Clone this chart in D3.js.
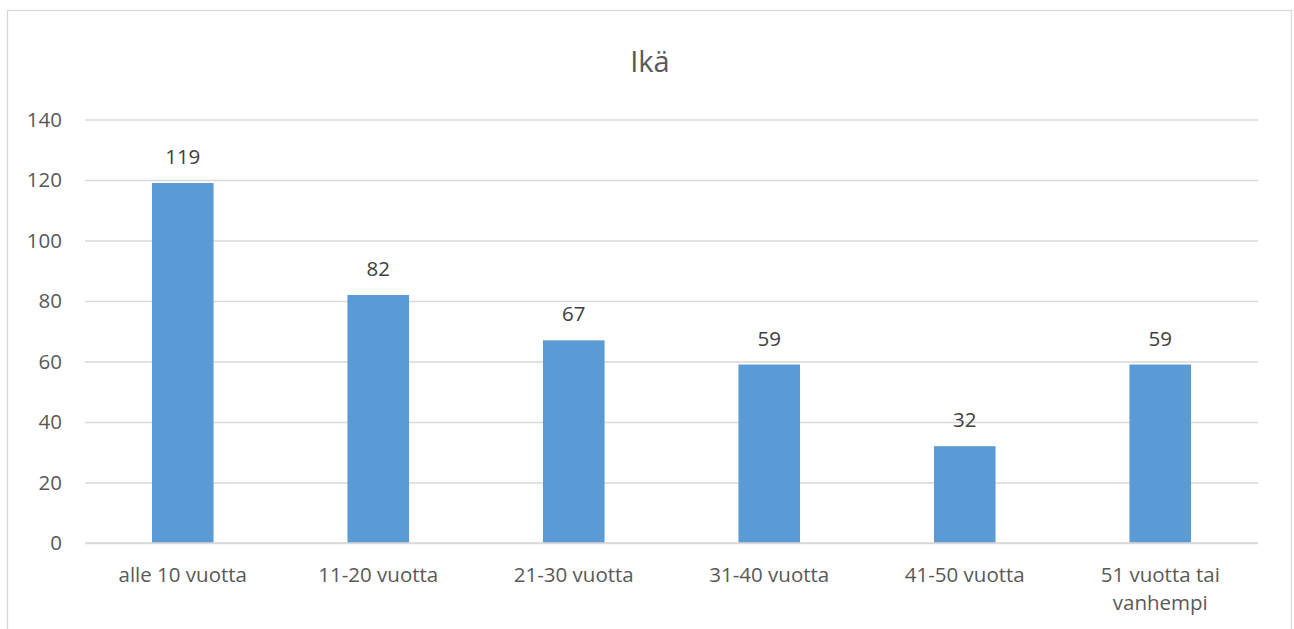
<!DOCTYPE html>
<html>
<head>
<meta charset="utf-8">
<script src="https://cdn.jsdelivr.net/npm/d3@7"></script>
<style>
  body { margin: 0; background: #fff; }
  svg { display: block; font-family: "Open Sans", sans-serif; }
</style>
</head>
<body>
<div id="chart"></div>
<script>
// Data
const categories = ['alle 10 vuotta', '11-20 vuotta', '21-30 vuotta', '31-40 vuotta', '41-50 vuotta', '51 vuotta tai vanhempi'];
const values = [119, 82, 67, 59, 32, 59];
const yTicks = [0, 20, 40, 60, 80, 100, 120, 140];
const chartTitle = 'Ikä';

const width = 1294;
const height = 629;

const plotLeft = 85;
const plotRight = 1258;
const plotTop = 119.5;
const plotBottom = 543;
const fontSize = '20.5px';

const svg = d3.select('#chart').append('svg')
  .attr('width', width)
  .attr('height', height);

// Frame
svg.append('rect')
  .attr('x', 7.5)
  .attr('y', 10.5)
  .attr('width', 1284)
  .attr('height', 660)
  .attr('fill', '#fff')
  .attr('stroke', '#d9d9d9')
  .attr('stroke-width', 1.3);

// Title
svg.append('text')
  .attr('x', 650)
  .attr('y', 72)
  .attr('text-anchor', 'middle')
  .attr('fill', '#595959')
  .style('font-size', '29px')
  .text(chartTitle);

// Scales
const x = d3.scaleBand()
  .domain(categories)
  .range([plotLeft, plotRight])
  .paddingInner(0.685)
  .paddingOuter(0.3425);

const y = d3.scaleLinear()
  .domain([0, 140])
  .range([plotBottom, plotTop]);

// Y axis with gridlines
const yAxis = d3.axisLeft(y)
  .tickValues(yTicks)
  .tickSize(-(plotRight - plotLeft))
  .tickPadding(23);

const gy = svg.append('g')
  .attr('transform', `translate(${plotLeft},0)`)
  .call(yAxis);
gy.select('.domain').remove();
gy.selectAll('.tick line').attr('stroke', '#d9d9d9').attr('stroke-width', 1.5);
gy.selectAll('.tick text')
  .attr('fill', '#595959')
  .style('font-size', fontSize)
  .style('font-family', '"Open Sans", sans-serif');

// Bars
svg.selectAll('rect.bar')
  .data(values)
  .enter()
  .append('rect')
  .attr('class', 'bar')
  .attr('x', (d, i) => x(categories[i]))
  .attr('y', (d) => y(d))
  .attr('width', x.bandwidth())
  .attr('height', (d) => plotBottom - y(d))
  .attr('fill', '#5b9bd5');

// Baseline over bars
svg.append('line')
  .attr('x1', plotLeft).attr('x2', plotRight)
  .attr('y1', y(0)).attr('y2', y(0))
  .attr('stroke', '#d9d9d9')
  .attr('stroke-width', 1.5);

// Data labels
svg.selectAll('text.label')
  .data(values)
  .enter()
  .append('text')
  .attr('class', 'label')
  .attr('x', (d, i) => x(categories[i]) + x.bandwidth() / 2)
  .attr('y', (d) => y(d) - 19)
  .attr('text-anchor', 'middle')
  .attr('fill', '#404040')
  .style('font-size', fontSize)
  .text((d) => d);

// Category labels (wrap long ones)
const xAxis = d3.axisBottom(x).tickSize(0).tickPadding(0);
const gx = svg.append('g')
  .attr('transform', `translate(0,${plotBottom})`)
  .call(xAxis);
gx.select('.domain').remove();
gx.selectAll('.tick text').remove();
gx.selectAll('.tick').each(function (d) {
  const lines = d === '51 vuotta tai vanhempi' ? ['51 vuotta tai', 'vanhempi'] : [d];
  const t = d3.select(this).append('text')
    .attr('text-anchor', 'middle')
    .attr('fill', '#595959')
    .style('font-size', fontSize)
    .style('font-family', '"Open Sans", sans-serif');
  lines.forEach((l, i) => {
    t.append('tspan').attr('x', 0).attr('y', 39 + i * 28).text(l);
  });
});
</script>
</body>
</html>
